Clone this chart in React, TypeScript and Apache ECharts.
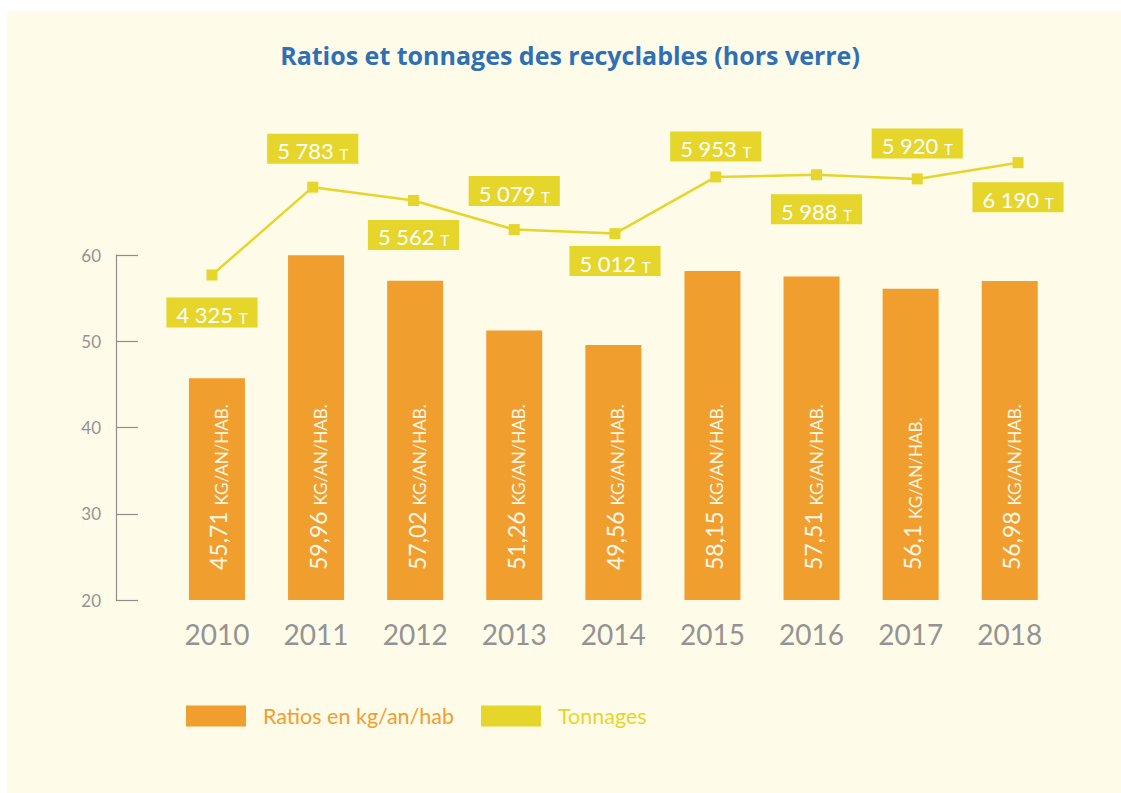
import React, { useEffect, useRef } from "react";
import * as echarts from "echarts";

const years = ["2010", "2011", "2012", "2013", "2014", "2015", "2016", "2017", "2018"];
const ratios = [45.71, 59.96, 57.02, 51.26, 49.56, 58.15, 57.51, 56.1, 56.98];
const tonnages = [4325, 5783, 5562, 5079, 5012, 5953, 5988, 5920, 6190];
const yTicks = [20, 30, 40, 50, 60];

const ratioName = "Ratios en kg/an/hab";
const tonName = "Tonnages";
const titleText = "Ratios et tonnages des recyclables (hors verre)";

// label placement for the tonnage labels (layout, not data)
const tonLabelPos = ["bottom", "top", "bottom", "top", "bottom", "top", "bottom", "top", "bottom"];
const tonLabelDist = [17, 18, 14, 18, 7, 10, 14, 15, 14];

const ORANGE = "#f09e2e";
const YELLOW = "#e6d52b";
const CREAM = "#fefbe8";
const GREY = "#939393";
const BLUE = "#2f6fb4";
const FONT = "Lato, 'Open Sans', sans-serif";

const fmtRatio = (v: number) => String(v).replace(".", ",");
const fmtTon = (v: number) => {
  const s = String(v);
  return s.replace(/\B(?=(\d{3})+(?!\d))/g, " ");
};

export default function App() {
  const ref = useRef<HTMLDivElement>(null);
  useEffect(() => {
    if (!ref.current) return;
    const chart = echarts.init(ref.current, undefined, { renderer: "svg" });
    chart.setOption({
      animation: false,
      backgroundColor: "#ffffff",
      title: {
        text: titleText,
        left: 565,
        top: 37,
        textAlign: "center",
        textStyle: { color: BLUE, fontSize: 25, fontWeight: "bold", fontFamily: "'Open Sans', sans-serif" },
      },
      graphic: [
        {
          type: "rect",
          z: -10,
          silent: true,
          shape: { x: 7, y: 11, width: 1114, height: 782 },
          style: { fill: CREAM },
        },
      ],
      legend: {
        left: 186,
        top: 705,
        padding: 0,
        itemWidth: 60,
        itemHeight: 21,
        itemGap: 27,
        textStyle: { fontSize: 21.5, fontFamily: FONT, padding: [0, 0, 3, 12] },
        data: [
          { name: ratioName, icon: "rect", itemStyle: { color: ORANGE }, textStyle: { color: ORANGE } },
          { name: tonName, icon: "rect", itemStyle: { color: YELLOW }, textStyle: { color: YELLOW } },
        ],
      },
      grid: [
        { left: 167.4, right: 61.7, top: 255, bottom: 193 },
        { left: 161.6, right: 52.6, top: 255, bottom: 193 },
      ],
      xAxis: [
        {
          type: "category",
          gridIndex: 0,
          data: years,
          axisLine: { show: false },
          axisTick: { show: false },
          axisLabel: { color: GREY, fontSize: 28, fontFamily: FONT, margin: 20 },
        },
        { type: "category", gridIndex: 1, data: years, show: false },
      ],
      yAxis: [
        {
          type: "value",
          gridIndex: 0,
          min: yTicks[0],
          max: yTicks[yTicks.length - 1],
          interval: 10,
          offset: 51.4,
          splitLine: { show: false },
          axisLine: { show: true, lineStyle: { color: "#8e8e8e", width: 1.2 } },
          axisTick: { show: true, inside: true, length: 22, lineStyle: { color: "#8e8e8e", width: 1.2 } },
          axisLabel: { color: GREY, fontSize: 17, fontFamily: FONT, margin: 15 },
        },
        { type: "value", gridIndex: 1, min: -1070, max: 4657, show: false },
      ],
      series: [
        {
          name: ratioName,
          type: "bar",
          xAxisIndex: 0,
          yAxisIndex: 0,
          data: ratios,
          barWidth: 56,
          itemStyle: { color: ORANGE },
          label: {
            show: true,
            position: "insideBottom",
            distance: 30,
            rotate: 90,
            align: "left",
            verticalAlign: "middle",
            color: "#fff8e8",
            fontFamily: FONT,
            formatter: (p: any) => `{n|${fmtRatio(p.value)} }{u|KG/AN/HAB.}`,
            rich: {
              n: { fontSize: 23, fontFamily: FONT, color: "#fff8e8", verticalAlign: "bottom", lineHeight: 26 },
              u: { fontSize: 17, fontFamily: FONT, color: "#fff8e8", verticalAlign: "bottom", lineHeight: 26 },
            },
          },
        },
        {
          name: tonName,
          type: "line",
          xAxisIndex: 1,
          yAxisIndex: 1,
          clip: false,
          symbol: "rect",
          symbolSize: 11,
          lineStyle: { color: YELLOW, width: 2.5 },
          itemStyle: { color: YELLOW },
          data: tonnages.map((v, i) => ({
            value: v,
            label: { position: tonLabelPos[i], distance: tonLabelDist[i] },
          })),
          label: {
            show: true,
            backgroundColor: YELLOW,
            padding: [2, 10, 2, 10],
            color: "#ffffff",
            fontFamily: FONT,
            formatter: (p: any) => `{n|${fmtTon(p.value)} }{u|T}`,
            rich: {
              n: { fontSize: 22, fontFamily: FONT, color: "#ffffff", verticalAlign: "bottom", lineHeight: 26 },
              u: { fontSize: 15, fontFamily: FONT, color: "#ffffff", verticalAlign: "bottom", lineHeight: 26 },
            },
          },
        },
      ],
    });
    return () => chart.dispose();
  }, []);
  return (
    <div
      ref={ref}
      style={{ position: "fixed", left: 0, top: 0, width: 1121, height: 793 }}
    />
  );
}
